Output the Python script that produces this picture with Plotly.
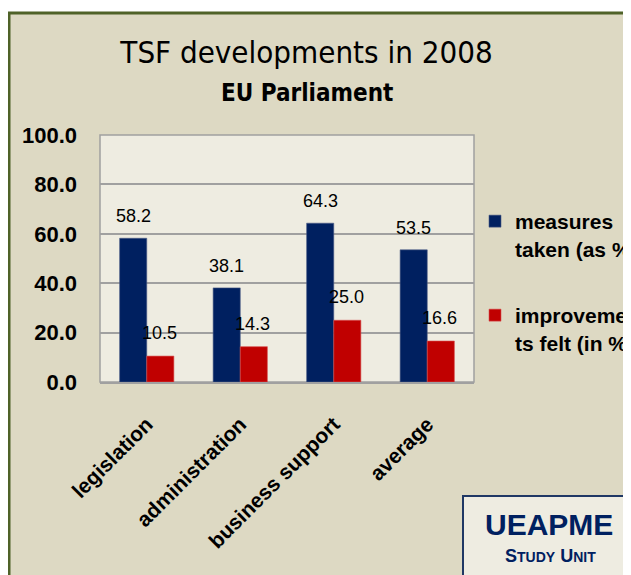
import plotly.graph_objects as go

# data
categories = ['legislation', 'administration', 'business support', 'average']
measures_taken = [58.2, 38.1, 64.3, 53.5]
improvements_felt = [10.5, 14.3, 25.0, 16.6]
y_ticks = [0, 20, 40, 60, 80, 100]

# the page body has an 8px margin, so the figure starts at (8, 8);
# it is made a bit larger than needed so it reaches the window edges
OFF = 8
W, H = 631, 575
# plot area in page pixels
L, R, T, B = 100, 474, 135, 382

def px(x):
    return (x - L) / (R - L)

def py(y):
    return (B - y) / (B - T)

def cx(x):
    return (x - OFF) / W

def cy(y):
    return 1 - (y - OFF) / H

COND = 'DejaVu Sans Condensed, Liberation Sans Narrow, sans-serif'
SANS = 'Liberation Sans, Arial, sans-serif'
NAVY = '#002060'
RED = '#c00000'

fig = go.Figure()

fig.add_trace(go.Bar(
    x=categories, y=measures_taken,
    name='measures<br>taken (as %)',
    marker=dict(color=NAVY, line=dict(color='#4a5a85', width=0.6)),
    legend='legend', showlegend=True,
    hoverinfo='y',
))
fig.add_trace(go.Bar(
    x=categories, y=improvements_felt,
    name='improvemen<br>ts felt (in %)',
    marker=dict(color=RED, line=dict(color='#d85050', width=0.6)),
    legend='legend2', showlegend=True,
    hoverinfo='y',
))

# value labels above the bars
annotations = []
for cat, v in zip(categories, measures_taken):
    annotations.append(dict(x=cat, y=v, xref='x', yref='y', text=f'{v:.1f}',
                            showarrow=False, yanchor='bottom', xshift=-13.5, yshift=10,
                            font=dict(family=SANS, size=18, color='black')))
for cat, v in zip(categories, improvements_felt):
    annotations.append(dict(x=cat, y=v, xref='x', yref='y', text=f'{v:.1f}',
                            showarrow=False, yanchor='bottom', xshift=12.5, yshift=11,
                            font=dict(family=SANS, size=18, color='black')))

# subtitle and logo box text
annotations.append(dict(x=px(306.5), y=py(92.5), xref='paper', yref='paper',
                        text='<b>EU Parliament</b>', showarrow=False,
                        xanchor='center', yanchor='middle',
                        font=dict(family=COND, size=24, color='black')))
annotations.append(dict(x=px(549), y=py(524), xref='paper', yref='paper',
                        text='<b>UEAPME</b>', showarrow=False,
                        xanchor='center', yanchor='middle',
                        font=dict(family=SANS, size=30, color=NAVY)))
annotations.append(dict(x=px(550), y=py(555.5), xref='paper', yref='paper',
                        text="<b>S<span style='font-size:14px'>TUDY</span> U<span style='font-size:14px'>NIT</span></b>",
                        showarrow=False, xanchor='center', yanchor='middle',
                        font=dict(family=SANS, size=18, color=NAVY)))

shapes = [
    # outer beige frame
    dict(type='rect', xref='paper', yref='paper', layer='below',
         x0=px(9), x1=px(660), y0=py(13), y1=py(600),
         fillcolor='#ddd9c3', line=dict(color='#4f6228', width=3)),
    # plot area background
    dict(type='rect', xref='paper', yref='paper', layer='below',
         x0=0, x1=1, y0=0, y1=1,
         fillcolor='#eeece1', line=dict(color='#a0a0a0', width=1.5)),
    # logo box
    dict(type='rect', xref='paper', yref='paper', layer='above',
         x0=px(463), x1=px(660), y0=py(496), y1=py(600),
         fillcolor='#eeece1', line=dict(color='#1f3864', width=2)),
]

legend_font = dict(family=SANS, size=21, color='black', weight='bold')

fig.update_layout(
    width=W, height=H,
    margin=dict(l=L - OFF, r=W - (R - OFF), t=T - OFF, b=H - (B - OFF), autoexpand=False),
    paper_bgcolor='white',
    plot_bgcolor='#eeece1',
    showlegend=True,
    barmode='group',
    bargap=0.42,
    bargroupgap=0,
    title=dict(text='TSF developments in 2008', x=cx(306.5), xref='container',
               xanchor='center', y=cy(52.5), yref='container', yanchor='middle',
               font=dict(family=COND, size=31, color='black')),
    legend=dict(xref='container', yref='container', x=cx(475), y=cy(201),
                xanchor='left', yanchor='top', valign='top',
                bgcolor='rgba(0,0,0,0)', font=legend_font),
    legend2=dict(xref='container', yref='container', x=cx(475), y=cy(295),
                 xanchor='left', yanchor='top', valign='top',
                 bgcolor='rgba(0,0,0,0)', font=legend_font),
    xaxis=dict(
        tickangle=-45, showgrid=False, showline=True, linecolor='#a0a0a0', linewidth=1.5,
        ticks='', ticklabelstandoff=20,
        tickfont=dict(family=SANS, size=21, color='black', weight='bold'),
    ),
    yaxis=dict(
        range=[0, 100], tickvals=y_ticks, tickformat='.1f',
        showgrid=True, gridcolor='#a0a0a0', gridwidth=1.5, zeroline=False,
        showline=False, ticks='', ticklabelstandoff=22,
        tickfont=dict(family=SANS, size=22, color='black', weight='bold'),
    ),
    annotations=annotations,
    shapes=shapes,
)

# no scrollbars: the figure runs past the window's right and bottom edges
fig.write_html('out.html', post_script="document.body.style.overflow = 'hidden';")
